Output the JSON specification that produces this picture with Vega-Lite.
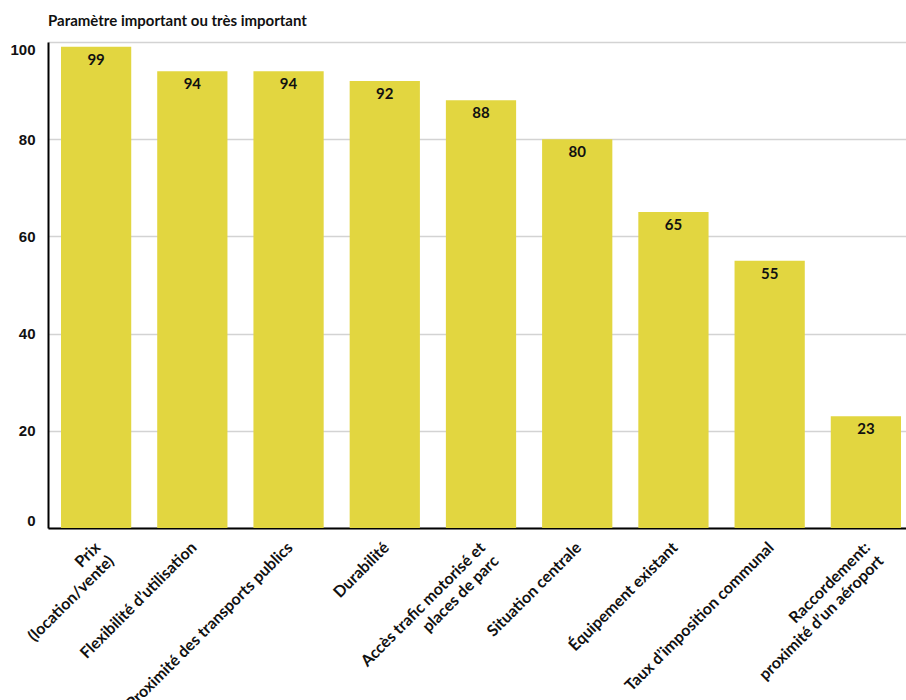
{
  "$schema": "https://vega.github.io/schema/vega-lite/v6.json",
  "autosize": {"type": "none"},
  "padding": {"left": 48, "top": 42, "right": 0, "bottom": 172},
  "width": 858,
  "height": 486,
  "background": "#ffffff",
  "title": {
    "text": "Paramètre important ou très important",
    "anchor": "start",
    "frame": "group",
    "font": "Lato",
    "fontSize": 15,
    "fontWeight": "bold",
    "color": "#111111",
    "baseline": "alphabetic",
    "offset": 0,
    "dy": -1
  },
  "data": {
    "values": [
      {"param": "Prix|(location/vente)", "value": 99},
      {"param": "Flexibilité d’utilisation", "value": 94},
      {"param": "Proximité des transports publics", "value": 94},
      {"param": "Durabilité", "value": 92},
      {"param": "Accès trafic motorisé et|places de parc", "value": 88},
      {"param": "Situation centrale", "value": 80},
      {"param": "Équipement existant", "value": 65},
      {"param": "Taux d’imposition communal", "value": 55},
      {"param": "Raccordement:|proximité d’un aéroport", "value": 23}
    ]
  },
  "encoding": {
    "x": {
      "field": "param",
      "type": "nominal",
      "sort": null,
      "scale": {"range": [0, 866], "paddingInner": 0.27, "paddingOuter": 0.135},
      "axis": {
        "title": null,
        "ticks": false,
        "domainColor": "#000000",
        "domainWidth": 2,
        "labelAngle": -45,
        "labelAlign": "right",
        "labelBaseline": "top",
        "labelFont": "Lato",
        "labelFontSize": 16,
        "labelFontWeight": "bold",
        "labelColor": "#111111",
        "labelPadding": 11,
        "labelOffset": -4,
        "labelLineHeight": 19,
        "labelLimit": 0,
        "labelOverlap": false,
        "labelExpr": "split(datum.label, '|')"
      }
    },
    "y": {
      "field": "value",
      "type": "quantitative",
      "scale": {"domain": [0, 100], "nice": false},
      "axis": {
        "title": null,
        "values": [0, 20, 40, 60, 80, 100],
        "grid": true,
        "gridColor": "#d3d3d3",
        "gridWidth": 1.5,
        "ticks": false,
        "domainColor": "#000000",
        "domainWidth": 2,
        "labelFont": "Liberation Sans",
        "labelFontSize": 15,
        "labelFontWeight": "bold",
        "labelColor": "#111111",
        "labelPadding": 13,
        "labelFlush": true
      }
    }
  },
  "layer": [
    {"mark": {"type": "bar", "color": "#e2d640"}},
    {
      "mark": {
        "type": "text",
        "baseline": "top",
        "dy": 6,
        "font": "Lato",
        "fontSize": 15,
        "fontWeight": "bold",
        "color": "#111111"
      },
      "encoding": {"text": {"field": "value", "type": "quantitative"}}
    }
  ],
  "config": {"view": {"stroke": null}}
}
